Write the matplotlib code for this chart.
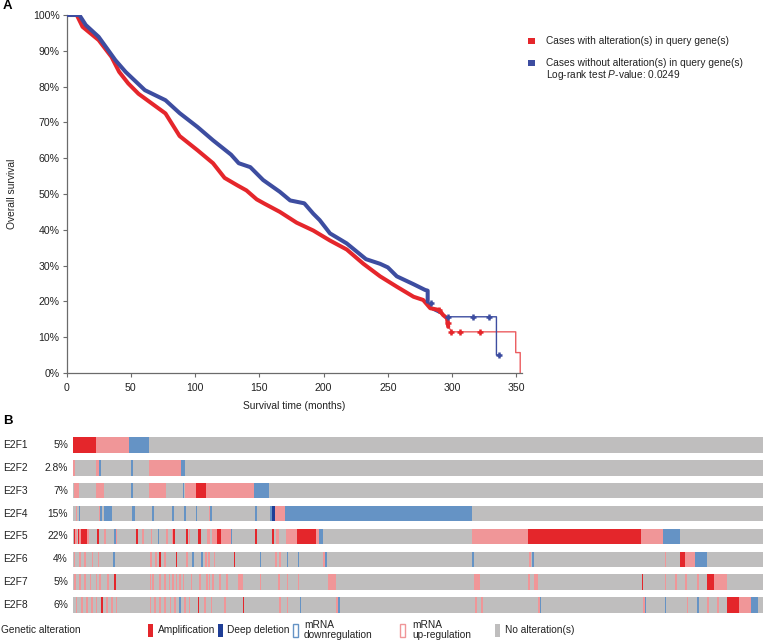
import numpy as np
import matplotlib
matplotlib.use("Agg")
from matplotlib import pyplot as plt
from matplotlib.patches import Rectangle
from matplotlib.transforms import blended_transform_factory

plt.rcParams['font.family'] = ['Liberation Sans', 'DejaVu Sans']
plt.rcParams['mathtext.fontset'] = 'custom'
plt.rcParams['mathtext.rm'] = 'Liberation Sans'
plt.rcParams['mathtext.it'] = 'Liberation Sans:italic'

# ---- panel A: Kaplan-Meier curves (months, % surviving) ----
red_t = [0, 8, 12.5, 25, 35, 41, 48, 56, 77, 88, 102, 114, 123, 133, 140, 148, 154, 166, 179, 192,
         205, 218, 231, 244, 257, 270, 277.5, 283, 290, 293, 296, 297, 300, 349.5, 349.5, 353, 353]
red_s = [100, 100, 96.7, 93, 88.3, 84.1, 80.9, 78, 72.5, 66.2, 62.2, 58.6, 54.5, 52.4, 51, 48.5, 47.3, 45, 42, 39.8,
         37, 34.5, 30.5, 27, 24.1, 21.3, 20.4, 18.1, 17.6, 16.2, 15.3, 12.9, 11.5, 11.5, 5.7, 5.7, 0]
red_cens_t = [290, 297, 299.5, 306, 321.5]
red_cens_s = [17.6, 14.0, 11.5, 11.5, 11.5]

blue_t = [0, 10, 15, 25, 38, 46, 61, 77, 88, 102, 114, 128, 134, 143, 153, 166, 174, 185, 192, 197,
          205, 218, 233, 244, 250, 257, 270, 279, 281, 281, 285, 296, 334.5, 334.5, 336.5]
blue_s = [100, 100, 97.2, 93.9, 87.4, 84.1, 79, 76.2, 72.6, 68.7, 65, 61, 58.6, 57.5, 53.9, 50.6, 48.2, 47.4, 44.5, 42.7,
          39, 36.2, 31.8, 30.5, 29.5, 27, 24.8, 23.2, 23, 19.9, 17.6, 15.7, 15.7, 5.0, 5.0]
blue_cens_t = [283.6, 297, 316, 329, 336.5]
blue_cens_s = [19.6, 15.7, 15.7, 15.7, 5.0]

red_dense_until = 297
blue_dense_until = 281

RED = '#E5262B'
BLUE = '#3D4DA0'

# ---- panel B: oncoprint, 1000 samples, (start, width, kind) ----
genes = ['E2F1', 'E2F2', 'E2F3', 'E2F4', 'E2F5', 'E2F6', 'E2F7', 'E2F8']
pcts = ['5%', '2.8%', '7%', '15%', '22%', '4%', '5%', '6%']
n_samples = 1000

e2f1 = [(0, 33, 'A'), (33, 48, 'H'), (81, 29, 'L')]
e2f2 = [(0, 2, 'H'), (34, 4, 'H'), (38, 2, 'L'), (84, 2, 'L'), (110, 47, 'H'), (157, 5, 'L')]
e2f3 = [(2, 6, 'H'), (34, 11, 'H'), (84, 2, 'L'), (110, 25, 'H'), (159, 2, 'L'), (162, 16, 'H'),
        (178, 15, 'A'), (193, 69, 'H'), (262, 22, 'L')]
e2f4 = [(4, 1.5, 'H'), (8, 2.5, 'L'), (38, 1.5, 'H'), (39, 3, 'L'), (45, 12, 'L'), (86, 4, 'L'),
        (114, 3, 'L'), (144, 2.5, 'L'), (161, 2, 'L'), (178, 2.5, 'L'), (197, 2, 'H'), (199, 3, 'L'),
        (264, 3, 'L'), (286, 2, 'L'), (288, 5, 'D'), (293, 14, 'H'), (307, 271, 'L')]
e2f5 = [(1, 2, 'A'), (3, 3, 'H'), (7, 2, 'A'), (9, 3, 'H'), (12, 9, 'A'), (21, 2, 'H'), (35, 2, 'A'),
        (45, 3, 'H'), (60, 2, 'L'), (62, 2, 'H'), (91, 3, 'A'), (100, 2, 'H'), (113, 2, 'H'), (123, 2, 'L'),
        (135, 2, 'H'), (143, 2, 'H'), (145, 2, 'A'), (164, 3, 'A'), (168, 2, 'H'), (182, 3, 'A'),
        (195, 3, 'H'), (201, 8, 'H'), (209, 5, 'A'), (214, 15, 'H'), (229, 2, 'L'), (264, 2, 'A'),
        (289, 2, 'A'), (295, 4, 'H'), (309, 16, 'H'), (325, 27, 'A'), (352, 5, 'H'), (357, 5, 'L'),
        (578, 82, 'H'), (660, 164, 'A'), (824, 32, 'H'), (856, 25, 'L')]
e2f6 = [(1, 1.5, 'H'), (9, 1.5, 'H'), (16, 1.5, 'H'), (27, 1.5, 'H'), (36, 1.5, 'H'), (58, 1.5, 'L'),
        (112, 1.5, 'H'), (119, 1.5, 'H'), (125, 2, 'A'), (132, 1.5, 'H'), (149, 2, 'A'), (164, 1.5, 'H'),
        (173, 1.5, 'L'), (186, 2, 'L'), (192, 1.5, 'H'), (196, 1.5, 'H'), (204, 1.5, 'H'), (233, 2, 'A'),
        (271, 1.5, 'L'), (293, 1.5, 'H'), (299, 1.5, 'H'), (310, 1.5, 'L'), (326, 1.5, 'L'),
        (363, 2, 'H'), (365, 4, 'L'), (579, 2, 'L'), (662, 2, 'H'), (665, 3, 'L'), (858, 1.5, 'H'),
        (881, 7, 'A'), (888, 14, 'H'), (902, 17, 'L')]
e2f7 = [(2, 1.5, 'H'), (9, 1.5, 'H'), (16, 1.5, 'H'), (24, 1.5, 'H'), (33, 1.5, 'H'), (38, 1.5, 'H'),
        (50, 1.5, 'H'), (60, 1.5, 'A'), (111, 1.5, 'H'), (115, 1.5, 'H'), (125, 1.5, 'H'), (132, 1.5, 'H'),
        (139, 1.5, 'H'), (144, 1.5, 'H'), (149, 1.5, 'H'), (154, 1.5, 'H'), (159, 1.5, 'H'), (171, 1.5, 'H'),
        (183, 1.5, 'H'), (193, 1.5, 'H'), (197, 1.5, 'H'), (202, 1.5, 'H'), (212, 1.5, 'H'), (222, 1.5, 'H'),
        (240, 6, 'H'), (271, 1.5, 'H'), (297, 3, 'H'), (310, 1.5, 'H'), (326, 1.5, 'H'), (370, 12, 'H'),
        (581, 10, 'H'), (660, 1.5, 'H'), (668, 6, 'H'), (825, 2, 'A'), (858, 1.5, 'H'), (873, 1.5, 'H'),
        (888, 1.5, 'H'), (905, 1.5, 'H'), (920, 9, 'A'), (929, 19, 'H')]
e2f8 = [(4, 1.5, 'H'), (12, 1.5, 'H'), (19, 1.5, 'H'), (26, 1.5, 'H'), (33, 1.5, 'H'), (41, 1.5, 'A'),
        (48, 1.5, 'H'), (55, 1.5, 'H'), (62, 1.5, 'H'), (111, 1.5, 'H'), (118, 1.5, 'H'), (125, 1.5, 'H'),
        (132, 1.5, 'H'), (140, 1.5, 'H'), (147, 1.5, 'H'), (154, 2, 'L'), (161, 1.5, 'H'), (168, 1.5, 'H'),
        (181, 1.5, 'A'), (190, 1.5, 'H'), (200, 1.5, 'H'), (219, 1.5, 'H'), (246, 1.5, 'A'), (299, 1.5, 'H'),
        (310, 1.5, 'H'), (329, 2, 'L'), (382, 3, 'H'), (385, 2, 'L'), (583, 1.5, 'H'), (592, 1.5, 'H'),
        (674, 3, 'H'), (677, 2, 'L'), (827, 2, 'H'), (829, 2, 'L'), (858, 1.5, 'L'), (890, 1.5, 'H'),
        (905, 1.5, 'L'), (920, 1.5, 'H'), (934, 1.5, 'H'), (949, 17, 'A'), (966, 18, 'H'), (984, 10, 'L')]
rows = [e2f1, e2f2, e2f3, e2f4, e2f5, e2f6, e2f7, e2f8]

kind_colors = {'A': '#E4262B', 'D': '#1F3E96', 'L': '#6593C5', 'H': '#F09698'}
GREY = '#BFBEBE'

legend_labels = ['Amplification', 'Deep deletion', 'mRNA\ndownregulation', 'mRNA\nup-regulation',
                 'No alteration(s)']

W, H = 764, 643
def fx(px):
    return px / W
def fy(py):
    return 1 - py / H

fig = plt.figure(figsize=(W / 100, H / 100), dpi=100)

# ---------------- panel A ----------------
ax = fig.add_axes([fx(66.5), fy(373), 455 / W, 358 / H])
red_t = np.array(red_t); red_s = np.array(red_s)
blue_t = np.array(blue_t); blue_s = np.array(blue_s)

rd = red_t <= red_dense_until
bd = blue_t <= blue_dense_until
ax.plot(red_t, red_s, color=RED, lw=1.0, zorder=2, alpha=0.75)
ax.plot(red_t[rd], red_s[rd], color=RED, lw=2.9, zorder=3, solid_capstyle='round', solid_joinstyle='round')
ax.plot(blue_t, blue_s, color=BLUE, lw=1.0, zorder=2)
ax.plot(blue_t[bd], blue_s[bd], color=BLUE, lw=2.9, zorder=4, solid_capstyle='round', solid_joinstyle='round')
ax.plot(red_cens_t, red_cens_s, '+', color=RED, ms=5, mew=1.8, zorder=5)
ax.plot(blue_cens_t, blue_cens_s, '+', color=BLUE, ms=5, mew=1.8, zorder=5)

ax.set_xlim(0, 354)
ax.set_ylim(0, 100)
ax.set_xticks(np.arange(0, 351, 50))
ax.set_yticks(np.arange(0, 101, 10))
ax.set_yticklabels(['%d%%' % v for v in range(0, 101, 10)])
for s in ['top', 'right']:
    ax.spines[s].set_visible(False)
for s in ['left', 'bottom']:
    ax.spines[s].set_color('#6b6b6b')
    ax.spines[s].set_linewidth(0.9)
ax.tick_params(direction='out', length=3, width=0.8, color='#6b6b6b', labelsize=7.6,
               labelcolor='#222222', pad=2)
ax.tick_params(axis='x', pad=4)
ax.set_xlabel('Survival time (months)', fontsize=7.4, color='#222222', labelpad=6)
fig.text(fx(12), fy(194), 'Overall survival', rotation=90, ha='center', va='center',
         fontsize=7.4, color='#222222')

# legend of panel A
fig.patches.append(Rectangle((fx(528), fy(44)), 7 / W, 6 / H, transform=fig.transFigure,
                             facecolor=RED, edgecolor='none'))
fig.patches.append(Rectangle((fx(528), fy(66)), 7 / W, 6 / H, transform=fig.transFigure,
                             facecolor=BLUE, edgecolor='none'))
fig.text(fx(546), fy(41), 'Cases with alteration(s) in query gene(s)', va='center', fontsize=7.3, color='#222222')
fig.text(fx(546), fy(63), 'Cases without alteration(s) in query gene(s)', va='center', fontsize=7.3, color='#222222')
fig.text(fx(546), fy(75.5), 'Log-rank test $\\it{P}$-value: 0.0249', va='center', fontsize=7.3, color='#222222')

fig.text(fx(3), fy(6), 'A', fontsize=9.5, fontweight='bold', va='center')
fig.text(fx(3), fy(421), 'B', fontsize=9.5, fontweight='bold', va='center')

# ---------------- panel B ----------------
oax = fig.add_axes([fx(73), fy(616.4), 689.5 / W, 182.8 / H])
oax.set_xlim(0, n_samples)
oax.set_ylim(len(genes) - 0.5, -0.5)
oax.axis('off')
bar_h = 0.68
min_w = 2.3  # keep single-sample marks visible
for i, segs in enumerate(rows):
    oax.barh(i, n_samples, left=0, height=bar_h, color=GREY, linewidth=0)
    for start, width, kind in segs:
        oax.barh(i, max(width, min_w), left=start, height=bar_h, color=kind_colors[kind], linewidth=0)

trans = blended_transform_factory(fig.transFigure, oax.transData)
for i, (g, p) in enumerate(zip(genes, pcts)):
    oax.text(fx(3), i, g, transform=trans, ha='left', va='center', fontsize=7.4, color='#222222')
    oax.text(fx(68), i, p, transform=trans, ha='right', va='center', fontsize=7.4, color='#222222')

# legend of panel B
fig.text(fx(1), fy(630), 'Genetic alteration', va='center', fontsize=7.3, color='#222222')
glyph_x = [148, 218, 293, 400, 495]
text_x = [158, 227, 304, 412, 505]
glyph_fill = [kind_colors['A'], kind_colors['D'], 'white', 'white', GREY]
glyph_edge = ['none', 'none', kind_colors['L'], kind_colors['H'], 'none']
for gx, tx, lab, fc, ec in zip(glyph_x, text_x, legend_labels, glyph_fill, glyph_edge):
    fig.patches.append(Rectangle((fx(gx), fy(637)), 4.5 / W, 13 / H, transform=fig.transFigure,
                                 facecolor=fc, edgecolor=ec, linewidth=1.0))
    fig.text(fx(tx), fy(630), lab, va='center', ha='left', fontsize=7.3, color='#222222', linespacing=1.05)

fig.savefig('out.png', dpi=100)
